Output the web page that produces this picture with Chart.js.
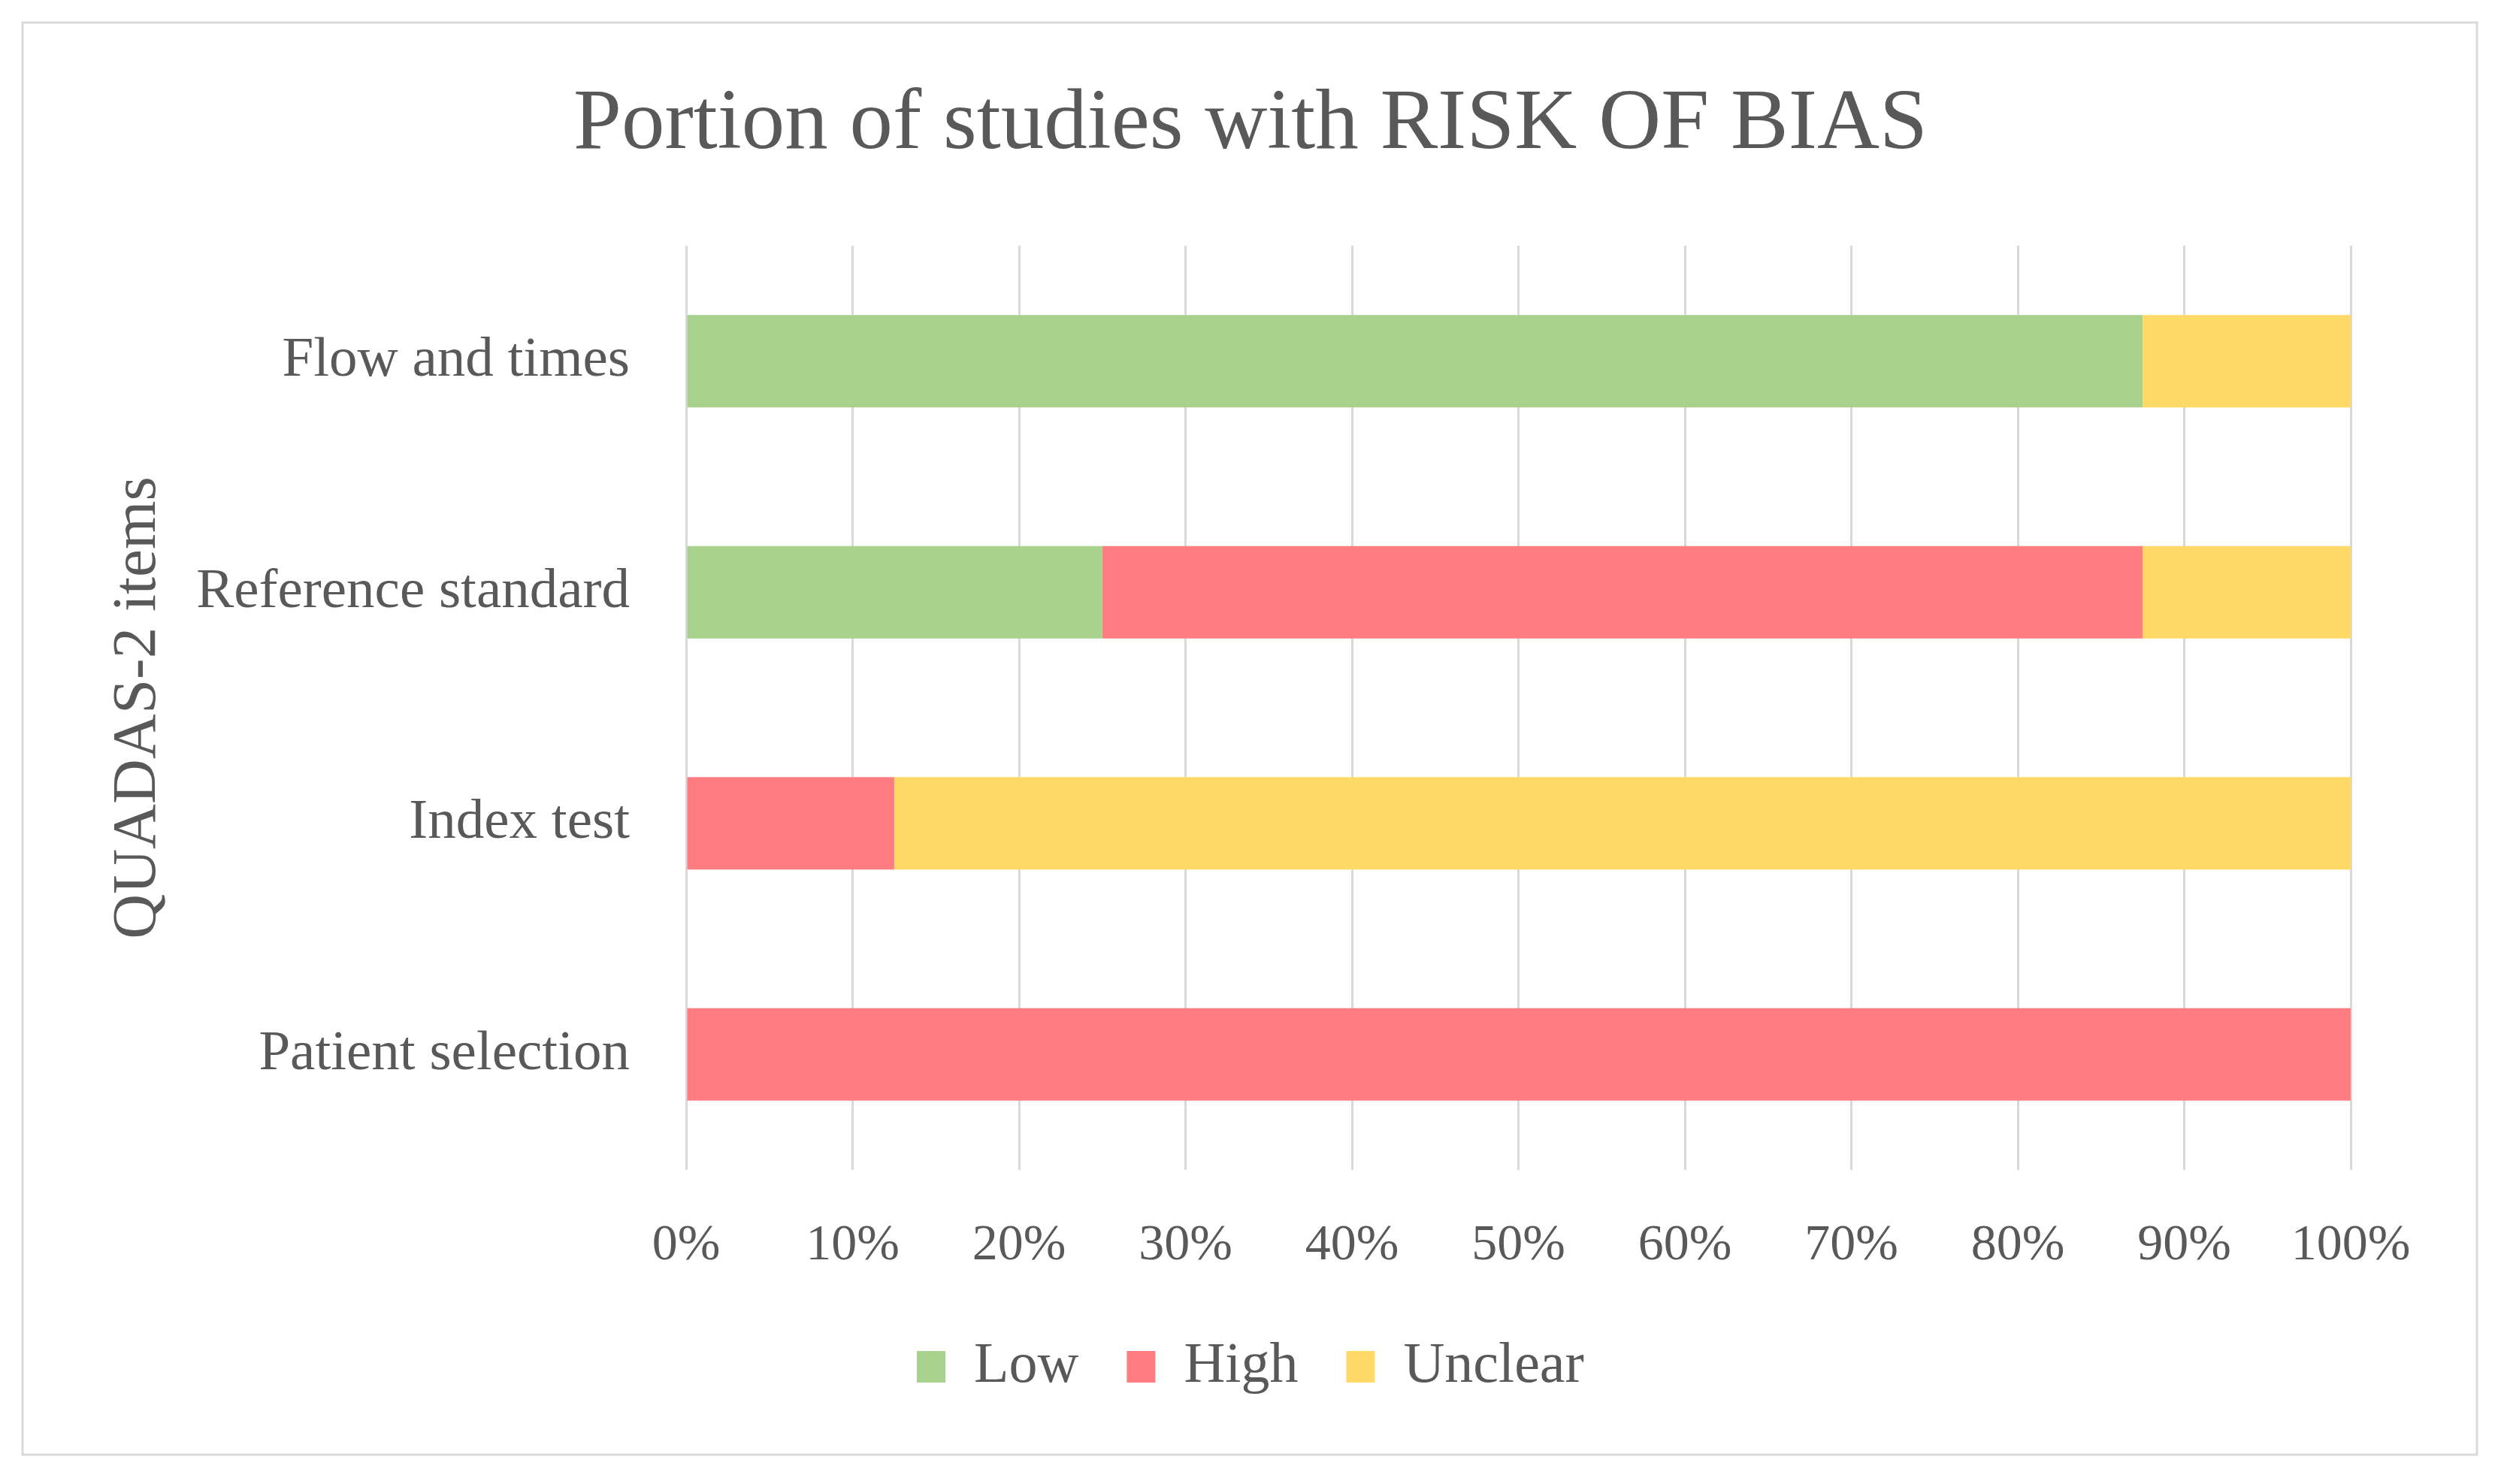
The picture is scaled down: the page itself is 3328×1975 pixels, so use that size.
<!DOCTYPE html>
<html>
<head>
<meta charset="utf-8">
<script src="https://cdn.jsdelivr.net/npm/chart.js@4"></script>
<style>
html,body{margin:0;padding:0;background:#fff;}
#wrap{width:3328px;height:1975px;position:relative;}
</style>
</head>
<body>
<div id="wrap"><canvas id="c" width="3328" height="1975"></canvas></div>
<script>
const categories = ["Flow and times", "Reference standard", "Index test", "Patient selection"];
const lowValues = [87.5, 25, 0, 0];
const highValues = [0, 62.5, 12.5, 100];
const unclearValues = [12.5, 12.5, 87.5, 0];
const xTickValues = [0, 10, 20, 30, 40, 50, 60, 70, 80, 90, 100];
const seriesNames = ["Low", "High", "Unclear"];

const FONT = "'Liberation Serif', 'Times New Roman', serif";
const TXT = "#595959";

const frame = {
  id: 'frame',
  beforeDraw(chart) {
    const ctx = chart.ctx;
    ctx.save();
    ctx.fillStyle = '#ffffff';
    ctx.fillRect(0, 0, chart.width, chart.height);
    ctx.strokeStyle = '#d9d9d9';
    ctx.lineWidth = 3;
    ctx.strokeRect(30, 30, 3266, 1906);
    ctx.restore();
  }
};

new Chart(document.getElementById('c'), {
  type: 'bar',
  data: {
    labels: categories,
    datasets: [
      { label: seriesNames[0], data: lowValues, backgroundColor: '#A9D18E' },
      { label: seriesNames[1], data: highValues, backgroundColor: '#FF7C80' },
      { label: seriesNames[2], data: unclearValues, backgroundColor: '#FFD966' }
    ]
  },
  options: {
    responsive: false,
    animation: false,
    devicePixelRatio: 1,
    indexAxis: 'y',
    datasets: { bar: { categoryPercentage: 1.0, barPercentage: 0.4, borderWidth: 0 } },
    layout: { padding: { left: 200, right: 200, top: 30, bottom: 108 } },
    plugins: {
      title: {
        display: true,
        text: 'Portion of studies with RISK OF BIAS',
        color: TXT,
        font: { family: FONT, size: 115, weight: 'normal', lineHeight: 1.2 },
        padding: { top: 68, bottom: 91 }
      },
      legend: {
        position: 'bottom',
        labels: {
          color: TXT,
          font: { family: FONT, size: 76 },
          boxWidth: 38,
          boxHeight: 42,
          padding: 64
        }
      },
      tooltip: { enabled: false }
    },
    scales: {
      x: {
        stacked: true,
        min: 0,
        max: 100,
        afterBuildTicks(scale) { scale.ticks = xTickValues.map(v => ({ value: v })); },
        afterFit(scale) { scale.height = 160; },
        ticks: {
          color: TXT,
          font: { family: FONT, size: 68 },
          padding: 60,
          maxRotation: 0,
          autoSkip: false,
          callback: v => v + '%'
        },
        grid: { color: '#d9d9d9', lineWidth: 3, drawTicks: false },
        border: { display: false }
      },
      y: {
        stacked: true,
        afterFit(scale) { scale.width = 913 - 200; },
        ticks: {
          color: TXT,
          font: { family: FONT, size: 75 },
          padding: 75,
          autoSkip: false
        },
        grid: { display: false, drawTicks: false },
        border: { display: false },
        title: {
          display: true,
          text: 'QUADAS-2 items',
          color: TXT,
          font: { family: FONT, size: 83 },
          padding: { top: -66, bottom: 0 }
        }
      }
    }
  },
  plugins: [frame]
});
</script>
</body>
</html>
